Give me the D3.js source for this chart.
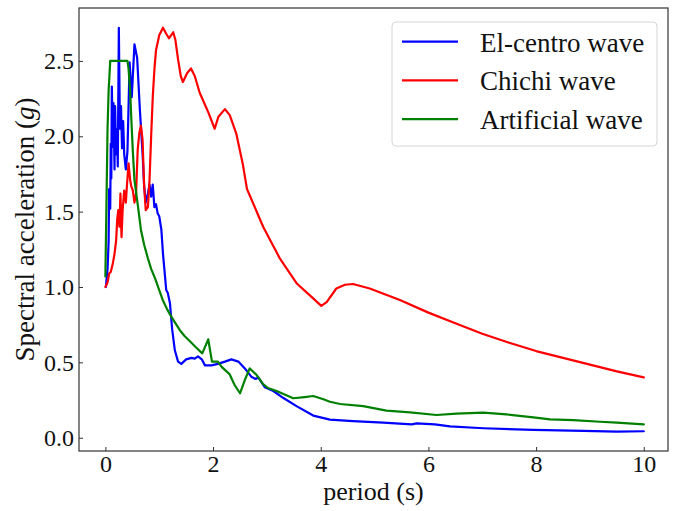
<!DOCTYPE html>
<html>
<head>
<meta charset="utf-8">
<script src="https://cdn.jsdelivr.net/npm/d3@7/dist/d3.min.js"></script>
<style>
  html, body { margin: 0; padding: 0; background: #fff; }
  svg { display: block; }
  svg text { font-family: "Liberation Serif", "Times New Roman", Times, "DejaVu Serif", serif; }
</style>
</head>
<body>
<svg id="chart" width="678" height="511"></svg>
<script>
// Response spectra: period (s) vs spectral acceleration (g)
const elCentro = [
  [0.01,1.00],[0.04,1.12],[0.06,1.30],[0.07,1.65],[0.09,1.52],[0.10,1.95],[0.11,1.72],[0.12,2.33],
  [0.14,1.93],[0.15,2.22],[0.17,1.78],[0.18,2.20],[0.20,1.88],[0.22,2.05],[0.23,1.80],[0.25,2.72],
  [0.27,2.05],[0.29,2.20],[0.31,1.92],[0.33,2.10],[0.35,1.88],[0.38,1.78],[0.41,1.90],[0.45,2.49],
  [0.49,2.26],[0.54,2.61],[0.59,2.52],[0.64,2.18],[0.69,1.89],[0.72,1.67],[0.75,1.56],[0.79,1.62],
  [0.82,1.68],[0.85,1.60],[0.88,1.68],[0.91,1.53],[0.94,1.55],[0.97,1.49],[1.00,1.47],[1.04,1.38],
  [1.07,1.22],[1.10,1.10],[1.13,0.98],[1.16,0.96],[1.20,0.89],[1.24,0.72],[1.29,0.58],[1.35,0.505],
  [1.41,0.49],[1.50,0.52],[1.60,0.53],[1.66,0.525],[1.72,0.54],[1.79,0.52],[1.85,0.48],[1.97,0.48],
  [2.09,0.49],[2.22,0.505],[2.34,0.52],[2.47,0.505],[2.59,0.46],[2.71,0.405],[2.79,0.39],[2.84,0.40],
  [2.96,0.335],[3.12,0.31],[3.30,0.265],[3.55,0.21],[3.86,0.147],[4.17,0.12],[4.60,0.11],[5.16,0.10],
  [5.69,0.089],[5.78,0.095],[6.12,0.089],[6.40,0.075],[7.02,0.063],[7.95,0.052],[8.88,0.045],
  [9.50,0.041],[10.0,0.043]
];

const chichi = [
  [0.00,1.00],[0.04,1.03],[0.07,1.09],[0.10,1.10],[0.14,1.16],[0.17,1.22],[0.20,1.31],[0.22,1.45],
  [0.24,1.51],[0.26,1.40],[0.28,1.62],[0.30,1.33],[0.32,1.51],[0.35,1.64],[0.38,1.56],[0.40,1.67],
  [0.43,1.82],[0.46,1.71],[0.48,1.67],[0.51,1.64],[0.54,1.56],[0.57,1.62],[0.60,1.91],[0.63,2.02],
  [0.66,2.07],[0.69,1.98],[0.72,1.67],[0.75,1.51],[0.79,1.53],[0.82,1.71],[0.85,2.00],[0.88,2.26],
  [0.91,2.44],[0.94,2.57],[1.00,2.67],[1.07,2.72],[1.13,2.68],[1.18,2.65],[1.26,2.69],[1.30,2.64],
  [1.35,2.51],[1.40,2.40],[1.44,2.36],[1.52,2.42],[1.59,2.45],[1.66,2.40],[1.75,2.29],[1.91,2.16],
  [2.03,2.05],[2.10,2.13],[2.22,2.18],[2.31,2.14],[2.43,2.02],[2.55,1.82],[2.63,1.65],[2.93,1.40],
  [3.24,1.19],[3.55,1.025],[3.86,0.925],[4.01,0.875],[4.11,0.90],[4.29,0.99],[4.45,1.015],[4.60,1.02],
  [4.91,0.99],[5.47,0.914],[6.0,0.83],[6.5,0.76],[7.0,0.69],[7.5,0.63],[8.0,0.575],[8.5,0.53],
  [9.0,0.485],[9.5,0.44],[10.0,0.40]
];

const artificial = [
  [0.00,1.07],[0.02,1.55],[0.04,2.05],[0.06,2.30],[0.09,2.50],[0.41,2.50],[0.43,2.45],[0.46,2.30],
  [0.48,2.13],[0.51,1.90],[0.54,1.71],[0.60,1.55],[0.66,1.38],[0.72,1.28],[0.79,1.19],[0.85,1.12],
  [0.92,1.06],[1.00,0.98],[1.07,0.91],[1.15,0.85],[1.23,0.80],[1.30,0.76],[1.38,0.715],[1.47,0.675],
  [1.57,0.64],[1.68,0.60],[1.80,0.56],[1.91,0.653],[1.98,0.505],[2.09,0.505],[2.16,0.47],[2.25,0.44],
  [2.31,0.42],[2.40,0.35],[2.50,0.295],[2.59,0.383],[2.68,0.46],[2.81,0.416],[2.93,0.355],[3.02,0.33],
  [3.18,0.31],[3.49,0.262],[3.70,0.27],[3.86,0.277],[4.05,0.255],[4.17,0.239],[4.36,0.224],[4.79,0.21],
  [5.22,0.18],[5.66,0.168],[6.15,0.151],[6.52,0.16],[7.02,0.166],[7.45,0.155],[7.95,0.135],[8.26,0.122],
  [8.69,0.117],[9.19,0.106],[9.50,0.10],[10.0,0.089]
];

const xTicks = [0, 2, 4, 6, 8, 10];
const yTicks = [0.0, 0.5, 1.0, 1.5, 2.0, 2.5];

const seriesNames = ["El-centro wave", "Chichi wave", "Artificial wave"];
const seriesColors = ["#0000ff", "#ff0000", "#008000"];
const seriesData = [elCentro, chichi, artificial];

const serif = "'Liberation Serif', 'Times New Roman', Times, 'DejaVu Serif', serif";

// Layout
const plot = { left: 79, right: 668, top: 8, bottom: 451 };
const svg = d3.select("#chart");

const x = d3.scaleLinear().domain([-0.49, 10.45]).range([plot.left, plot.right]);
const y = d3.scaleLinear().domain([-0.088, 2.851]).range([plot.bottom, plot.top]);

// Clip so lines stay inside the frame
svg.append("clipPath").attr("id", "plotClip")
  .append("rect")
  .attr("x", plot.left).attr("y", plot.top)
  .attr("width", plot.right - plot.left).attr("height", plot.bottom - plot.top);

// Axes (ticks pointing inward)
const xAxis = d3.axisBottom(x).tickValues(xTicks).tickFormat(d3.format("d"))
  .tickSizeInner(-4).tickSizeOuter(0).tickPadding(4);
const yAxis = d3.axisLeft(y).tickValues(yTicks).tickFormat(d3.format(".1f"))
  .tickSizeInner(-4).tickSizeOuter(0).tickPadding(5);

const gx = svg.append("g").attr("transform", `translate(0,${plot.bottom})`).call(xAxis);
const gy = svg.append("g").attr("transform", `translate(${plot.left},0)`).call(yAxis);
[gx, gy].forEach(g => {
  g.attr("font-family", serif).attr("font-size", 24);
  g.select(".domain").remove();
  g.selectAll(".tick line").attr("stroke", "#333").attr("stroke-width", 1);
  g.selectAll(".tick text")
    .attr("fill", "#111")
    .attr("font-family", serif)
    .attr("font-size", 24);
});

// Series lines
const line = d3.line().x(d => x(d[0])).y(d => y(d[1])).curve(d3.curveLinear);
const lines = svg.append("g").attr("clip-path", "url(#plotClip)");
seriesData.forEach((data, i) => {
  lines.append("path")
    .datum(data)
    .attr("fill", "none")
    .attr("stroke", seriesColors[i])
    .attr("stroke-width", 2.2)
    .attr("stroke-linejoin", "round")
    .attr("stroke-linecap", "round")
    .attr("d", line);
});

// Frame
svg.append("rect")
  .attr("x", plot.left).attr("y", plot.top)
  .attr("width", plot.right - plot.left).attr("height", plot.bottom - plot.top)
  .attr("fill", "none").attr("stroke", "#333").attr("stroke-width", 1.2);

// Axis labels
svg.append("text")
  .attr("x", (plot.left + plot.right) / 2).attr("y", 500)
  .attr("text-anchor", "middle")
  .attr("font-family", serif).attr("font-size", 26).attr("fill", "#111")
  .text("period (s)");

const yLabel = svg.append("text")
  .attr("transform", `translate(34,${(plot.top + plot.bottom) / 2}) rotate(-90)`)
  .attr("text-anchor", "middle")
  .attr("font-family", serif).attr("font-size", 27).attr("fill", "#111");
yLabel.append("tspan").text("Spectral acceleration (");
yLabel.append("tspan").attr("font-style", "italic").text("g");
yLabel.append("tspan").text(")");

// Legend
const legend = svg.append("g");
legend.append("rect")
  .attr("x", 392).attr("y", 22).attr("width", 265).attr("height", 124)
  .attr("rx", 4).attr("ry", 4)
  .attr("fill", "#fff").attr("fill-opacity", 0.8)
  .attr("stroke", "#d4d4d4").attr("stroke-width", 1);
seriesNames.forEach((name, i) => {
  const cy = 41.7 + i * 38.7;
  legend.append("line")
    .attr("x1", 402).attr("x2", 458).attr("y1", cy).attr("y2", cy)
    .attr("stroke", seriesColors[i]).attr("stroke-width", 2.2);
  legend.append("text")
    .attr("x", 480).attr("y", cy + 10)
    .attr("font-family", serif).attr("font-size", 27).attr("fill", "#111")
    .text(name);
});
</script>
</body>
</html>
